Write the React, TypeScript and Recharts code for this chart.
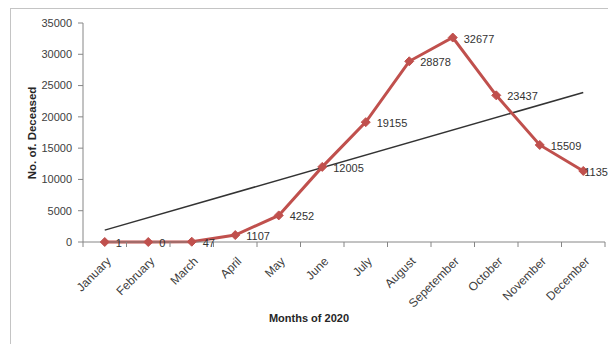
import React from "react";
import { LineChart, Line, XAxis, YAxis, LabelList, Label } from "recharts";

const months = [
  "January", "February", "March", "April", "May", "June",
  "July", "August", "Sepetember", "October", "November", "December",
];
const deceased = [1, 0, 47, 1107, 4252, 12005, 19155, 28878, 32677, 23437, 15509, 11359];
// linear trend line, only the two ends are drawn and joined
const trend = [1900, null, null, null, null, null, null, null, null, null, null, 23900];
const yTicks = [0, 5000, 10000, 15000, 20000, 25000, 30000, 35000];

const data = months.map((m, i) => ({ month: m, deceased: deceased[i], trend: trend[i] }));

const FONT = "'Liberation Sans', Arial, sans-serif";
const RED = "#C0504D";
const AXIS = "#868686";
const BAND = 522 / 12;

const Diamond = (props: any) => {
  const { cx, cy } = props;
  if (cx == null || cy == null) return null;
  const r = 4.5;
  return (
    <polygon
      points={`${cx},${cy - r} ${cx + r},${cy} ${cx},${cy + r} ${cx - r},${cy}`}
      fill={RED}
      stroke={RED}
    />
  );
};

const XTick = (props: any) => {
  const { x, y, payload, index } = props;
  const last = index === months.length - 1;
  const tx = x + 7;
  const ty = y + 20;
  return (
    <g>
      <line x1={x - BAND / 2} y1={y} x2={x - BAND / 2} y2={y + 5} stroke={AXIS} />
      {last && <line x1={x + BAND / 2} y1={y} x2={x + BAND / 2} y2={y + 5} stroke={AXIS} />}
      <text
        x={tx}
        y={ty}
        transform={`rotate(-45, ${tx}, ${ty})`}
        textAnchor="end"
        fontSize={12}
        fontFamily={FONT}
        fill="#404040"
      >
        {payload.value}
      </text>
    </g>
  );
};

const ValueLabel = (props: any) => {
  const { x, y, value, index } = props;
  const dx = index === months.length - 1 ? 1 : 11;
  return (
    <text
      x={x + dx}
      y={y + 1}
      dominantBaseline="central"
      fontSize={11}
      fontFamily={FONT}
      fill="#333"
    >
      {value}
    </text>
  );
};

export default function App() {
  return (
    <div style={{ position: "absolute", left: 0, top: 0, width: 608, height: 344, overflow: "hidden", background: "#fff" }}>
      <div
        style={{
          position: "absolute",
          left: 10,
          top: 8,
          width: 640,
          height: 400,
          border: "1px solid #c4c4c4",
        }}
      />
      <div style={{ position: "absolute", left: 0, top: 0 }}>
        <LineChart width={608} height={344} data={data} margin={{ top: 23, right: 3, bottom: 0, left: 0 }}>
          <XAxis
            dataKey="month"
            scale="band"
            height={102}
            interval={0}
            tickLine={false}
            tickSize={0}
            tickMargin={0}
            axisLine={{ stroke: AXIS }}
            tick={<XTick />}
          >
            <Label
              content={() => (
                <text x={309} y={322} textAnchor="middle" fontSize={11} fontWeight="bold" fontFamily={FONT} fill="#262626">
                  Months of 2020
                </text>
              )}
            />
          </XAxis>
          <YAxis
            width={83}
            domain={[0, 35000]}
            ticks={yTicks}
            interval={0}
            tickSize={5}
            tickMargin={6}
            tickLine={{ stroke: AXIS }}
            axisLine={{ stroke: AXIS }}
            tick={{ fontSize: 11, fontFamily: FONT, fill: "#404040" }}
          >
            <Label
              content={() => (
                <text
                  x={36}
                  y={133}
                  transform="rotate(-90, 36, 133)"
                  textAnchor="middle"
                  fontSize={11.5}
                  fontWeight="bold"
                  fontFamily={FONT}
                  fill="#262626"
                >
                  No. of. Deceased
                </text>
              )}
            />
          </YAxis>
          <Line
            dataKey="trend"
            stroke="#333"
            strokeWidth={1.5}
            dot={false}
            connectNulls
            isAnimationActive={false}
          />
          <Line
            dataKey="deceased"
            stroke={RED}
            strokeWidth={3}
            dot={<Diamond />}
            isAnimationActive={false}
          >
            <LabelList dataKey="deceased" content={<ValueLabel />} />
          </Line>
        </LineChart>
      </div>
    </div>
  );
}
